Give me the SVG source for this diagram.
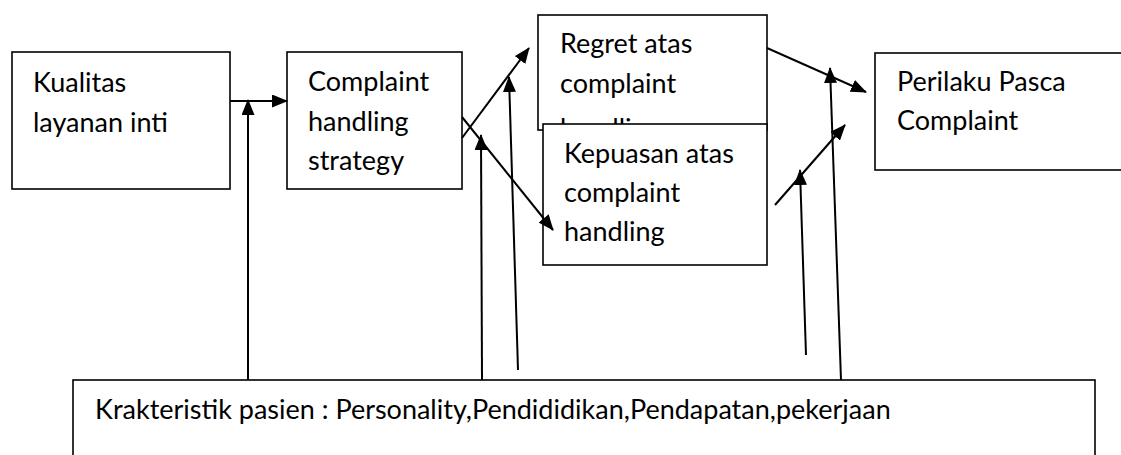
<svg xmlns="http://www.w3.org/2000/svg" width="1121" height="455" viewBox="0 0 1121 455">
<defs>
<style>
.box{fill:#fff;stroke:#000;stroke-width:1.6}
.t{font-family:Lato,"Liberation Sans",sans-serif;font-size:27px;fill:#000}
.c{stroke:#000;stroke-width:2;fill:none;marker-end:url(#ah)}
</style>
<marker id="ah" markerUnits="userSpaceOnUse" markerWidth="16" markerHeight="13" refX="15" refY="6.5" orient="auto" viewBox="0 0 16 13">
<path d="M0,0 L16,6.5 L0,13 z" fill="#000"/>
</marker>
</defs>
<rect width="1121" height="455" fill="#fff"/>
<g id="kualitas">
<rect class="box" x="12" y="52" width="218" height="137"/>
<text class="t" x="33" y="92">Kualitas</text>
<text class="t" x="33" y="132">layanan inti</text>
</g>
<g id="strategy">
<rect class="box" x="287" y="52" width="175" height="137"/>
<text class="t" x="308" y="91">Complaint</text>
<text class="t" x="308" y="131">handling</text>
<text class="t" x="308" y="170">strategy</text>
</g>
<g id="regret">
<rect class="box" x="538" y="15" width="229" height="115"/>
<text class="t" x="560" y="53">Regret atas</text>
<text class="t" x="560" y="93">complaint</text>
<text class="t" x="560" y="138">handling</text>
</g>
<g id="kepuasan">
<rect class="box" x="543" y="124" width="224" height="141"/>
<text class="t" x="564" y="163">Kepuasan atas</text>
<text class="t" x="564" y="202">complaint</text>
<text class="t" x="564" y="241">handling</text>
</g>
<g id="perilaku">
<rect class="box" x="875" y="53" width="260" height="117"/>
<text class="t" x="897" y="91">Perilaku Pasca</text>
<text class="t" x="897" y="130">Complaint</text>
</g>
<g id="karakteristik">
<rect class="box" x="73" y="380" width="1022" height="90"/>
<text class="t" x="95" y="419">Krakteristik pasien : Personality,Pendididikan,Pendapatan,pekerjaan</text>
</g>
<g id="connectors">
<line class="c" x1="230" y1="101" x2="287" y2="101"/>
<line class="c" x1="248" y1="380" x2="248" y2="100"/>
<line class="c" x1="462" y1="138" x2="529" y2="48"/>
<line class="c" x1="462" y1="117" x2="553" y2="230"/>
<line class="c" x1="482" y1="380" x2="481" y2="135"/>
<line class="c" x1="518" y1="370" x2="509" y2="77"/>
<line class="c" x1="767" y1="48" x2="866" y2="92"/>
<line class="c" x1="841" y1="380" x2="830" y2="68"/>
<line class="c" x1="775" y1="205" x2="845" y2="125"/>
<line class="c" x1="806" y1="355" x2="800" y2="170"/>
</g>
</svg>
